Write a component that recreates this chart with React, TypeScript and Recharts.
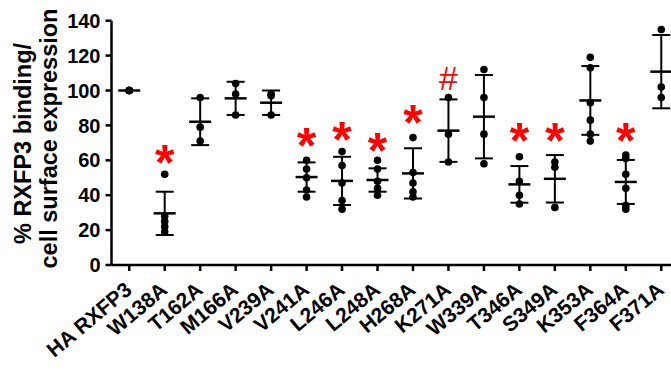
import { ScatterChart, Scatter, XAxis, YAxis, ErrorBar } from 'recharts';

const categories = ['HA RXFP3', 'W138A', 'T162A', 'M166A', 'V239A', 'V241A', 'L246A', 'L248A', 'H268A', 'K271A', 'W339A', 'T346A', 'S349A', 'K353A', 'F364A', 'F371A'];

// individual replicates per mutant
const replicates: number[][] = [
    [100, 100, 100, 100, 100],
    [52, 28, 25, 22, 19],
    [96, 79, 71],
    [104, 98, 86],
    [98, 97, 86],
    [60, 55, 50, 43, 39],
    [65, 57, 47, 37, 32],
    [60, 55, 48, 44, 40],
    [73, 53, 47, 42, 39],
    [96, 75, 59],
    [112, 96, 75, 58],
    [62, 48, 40, 35],
    [59, 56, 33],
    [119, 113, 93, 83, 75, 71],
    [63, 61, 52, 44, 34, 32],
    [135, 102, 96],
];

const means = [100, 29.6, 82.1, 95.5, 93, 50.4, 48.2, 48.7, 52.5, 77, 85, 46.2, 49.4, 94.3, 47.6, 110.8];
const sds = [0, 12.4, 13.4, 9.5, 7, 8.4, 13.8, 6.7, 14.4, 17.9, 23.9, 10.5, 13.6, 19.7, 12.6, 21];

// significance marks and the height they sit at
const marks = ['', '*', '', '', '', '*', '*', '*', '*', '#', '', '*', '*', '', '*', ''];
const markY = [0, 63, 0, 0, 0, 72.6, 76.4, 69.7, 86, 107, 0, 75.5, 75.5, 0, 75.5, 0];

const yTicks = [0, 20, 40, 60, 80, 100, 120, 140];

const font = "'Liberation Sans', Arial, sans-serif";

const pointData = replicates.flatMap((vals, i) => vals.map((v) => ({ x: i, y: v })));
const meanData = means.map((m, i) => ({ x: i, y: m, sd: sds[i] }));
const markData = marks
    .map((m, i) => ({ x: i, y: markY[i], mark: m }))
    .filter((d) => d.mark !== '');

const Dot = (props: any) => <circle cx={props.cx} cy={props.cy} r={3.8} fill="#000" />;

const MeanLine = (props: any) => (
    <line x1={props.cx - 11} x2={props.cx + 11} y1={props.cy} y2={props.cy} stroke="#000" strokeWidth={2.5} />
);

const Mark = (props: any) => {
    const star = props.payload.mark === '*';
    return (
        <text
            x={props.cx}
            y={props.cy + (star ? 25 : 12)}
            textAnchor="middle"
            fill="#ff0000"
            fontFamily={font}
            fontWeight={star ? 'bold' : 'normal'}
            fontSize={star ? 50 : 34}
        >
            {props.payload.mark}
        </text>
    );
};

const XTick = (props: any) => {
    const { x, y, payload } = props;
    const ax = x + 4;
    const ay = y + 19;
    return (
        <text
            x={ax}
            y={ay}
            transform={`rotate(-40, ${ax}, ${ay})`}
            textAnchor="end"
            fontFamily={font}
            fontWeight="bold"
            fontSize={21}
            fill="#000"
        >
            {categories[payload.value]}
        </text>
    );
};

const YLabel = () => (
    <g fontFamily={font} fontWeight="bold" fontSize={23.5} fill="#000" textAnchor="middle">
        <text transform="translate(31,143.5) rotate(-90)">% RXFP3 binding/</text>
        <text transform="translate(57,138.5) rotate(-90)">cell surface expression</text>
    </g>
);

export default function App() {
    return (
        <div style={{ position: 'fixed', left: 0, top: 0, width: 671, height: 371, overflow: 'hidden', background: '#fff' }}>
            <ScatterChart width={679} height={371} margin={{ top: 20.7, right: 0, left: 0, bottom: 0 }}>
                <XAxis
                    type="number"
                    dataKey="x"
                    domain={[-0.5, 15.5]}
                    ticks={categories.map((_, i) => i)}
                    interval={0}
                    height={106}
                    stroke="#000"
                    strokeWidth={2.5}
                    tickSize={6}
                    tick={<XTick />}
                />
                <YAxis
                    type="number"
                    dataKey="y"
                    domain={[0, 140]}
                    ticks={yTicks}
                    width={111.5}
                    stroke="#000"
                    strokeWidth={2.5}
                    tickSize={6}
                    tickMargin={5}
                    tick={{ fill: '#000', fontSize: 20, fontWeight: 'bold', fontFamily: font }}
                    label={<YLabel />}
                />
                <Scatter data={pointData} shape={<Dot />} isAnimationActive={false} />
                <Scatter data={meanData} shape={<MeanLine />} isAnimationActive={false}>
                    <ErrorBar dataKey="sd" direction="y" width={9} stroke="#000" strokeWidth={2} isAnimationActive={false} />
                </Scatter>
                <Scatter data={markData} shape={<Mark />} isAnimationActive={false} />
            </ScatterChart>
        </div>
    );
}
